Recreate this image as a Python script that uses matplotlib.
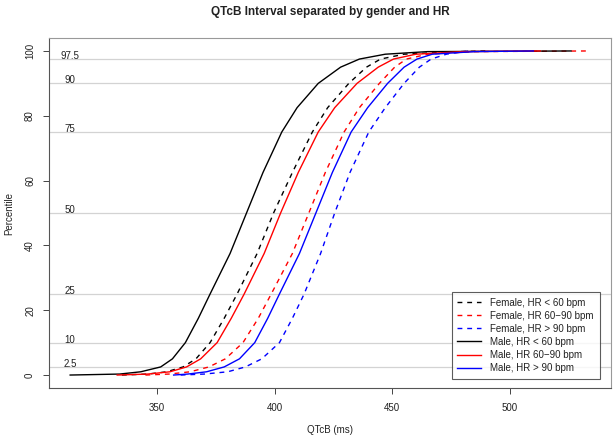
import matplotlib
matplotlib.use("Agg")
import matplotlib.pyplot as plt

pct = [0, 0.3, 1, 2.5, 5, 10, 17.5, 25, 37.5, 50, 62.5, 75, 82.5, 90, 95, 97.5, 99, 99.8, 100]

f_lt60 = [335, 346, 354, 361, 366.5, 372.5, 378.5, 384, 392.5, 399.5, 407.5, 416, 422.5, 431.5, 439, 445, 455, 478, 490]
f_60_90 = [345, 355, 364, 372, 379, 386.5, 393, 398.5, 407.5, 414.5, 421.5, 429.5, 436, 444.5, 451, 456, 465, 485, 533]
f_gt90 = [360, 370, 380, 387.5, 394.5, 402, 407.5, 412.5, 419.5, 425.5, 432, 440, 447, 455, 461.5, 466.5, 473, 480, 483]
m_lt60 = [313, 334, 343, 351.5, 356.5, 362, 367.5, 372.5, 381, 388, 395, 403, 409.5, 418.5, 428, 436, 447, 465, 526]
m_60_90 = [333, 346, 355.4, 362.5, 368.5, 375.5, 381.5, 387, 395.5, 402.5, 410, 418.5, 425.5, 435, 444, 450.5, 460, 480, 513]
m_gt90 = [357, 363, 371, 378.5, 385, 391.5, 397, 402, 410.5, 417.5, 424.5, 432.5, 439.5, 448, 455, 460.5, 467, 485, 510]

series = [
    ("Female, HR < 60 bpm", f_lt60, "black", (0, (3.5, 3.5))),
    ("Female, HR 60\u221290 bpm", f_60_90, "red", (0, (3.5, 3.5))),
    ("Female, HR > 90 bpm", f_gt90, "blue", (0, (3.5, 3.5))),
    ("Male, HR < 60 bpm", m_lt60, "black", "-"),
    ("Male, HR 60\u221290 bpm", m_60_90, "red", "-"),
    ("Male, HR > 90 bpm", m_gt90, "blue", "-"),
]

ref_lines = [2.5, 10, 25, 50, 75, 90, 97.5]
ref_labels = ["2.5", "10", "25", "50", "75", "90", "97.5"]

plt.rcParams["font.family"] = ["Liberation Sans", "DejaVu Sans"]

fig = plt.figure(figsize=(6.15, 4.4), dpi=100)
ax = fig.add_axes([49 / 615, 1 - 388 / 440, 562 / 615, 350 / 440])

for y, lab in zip(ref_lines, ref_labels):
    ax.axhline(y, color="#d3d3d3", lw=0.9, zorder=1)
    ax.text(313, y, lab, ha="center", va="baseline", fontsize=7, color="#222222", zorder=2)

for label, vals, col, ls in series:
    ax.plot(vals, pct, color=col, linestyle=ls, lw=1.0, label=label, zorder=3)

ax.set_xlim(304, 543)
ax.set_ylim(-4, 104)
ax.set_xticks([350, 400, 450, 500])
ax.set_yticks([0, 20, 40, 60, 80, 100])
ax.tick_params(axis="both", direction="out", length=4, width=0.7, colors="#444444",
               labelsize=7, labelcolor="#222222")
ax.tick_params(axis="x", pad=7)
ax.tick_params(axis="y", pad=6)
for t in ax.get_yticklabels():
    t.set_rotation(90)
    t.set_va("center")

for s in ["left", "bottom"]:
    ax.spines[s].set_color("#555555")
    ax.spines[s].set_linewidth(0.8)
for s in ["top", "right"]:
    ax.spines[s].set_color("#999999")
    ax.spines[s].set_linewidth(0.8)

fig.text(330 / 615, 1 - 430 / 440, "QTcB (ms)", ha="center", va="center",
         fontsize=7, color="#222222")
fig.text(9 / 615, 1 - 213 / 440, "Percentile", ha="center", va="center",
         rotation=90, fontsize=7, color="#222222")
fig.text(330 / 615, 1 - 12 / 440, "QTcB Interval separated by gender and HR",
         ha="center", va="center", fontsize=8.5, fontweight="bold", color="#222222")

leg = ax.legend(loc="lower right", bbox_to_anchor=(0.98, 0.026), borderaxespad=0,
                fontsize=7, frameon=True, fancybox=False, handlelength=2.4,
                handletextpad=1.0, labelspacing=0.32, borderpad=0.6)
leg.get_frame().set_edgecolor("#333333")
leg.get_frame().set_linewidth(0.8)
for t in leg.get_texts():
    t.set_color("#222222")

fig.savefig("out.png", dpi=100)
